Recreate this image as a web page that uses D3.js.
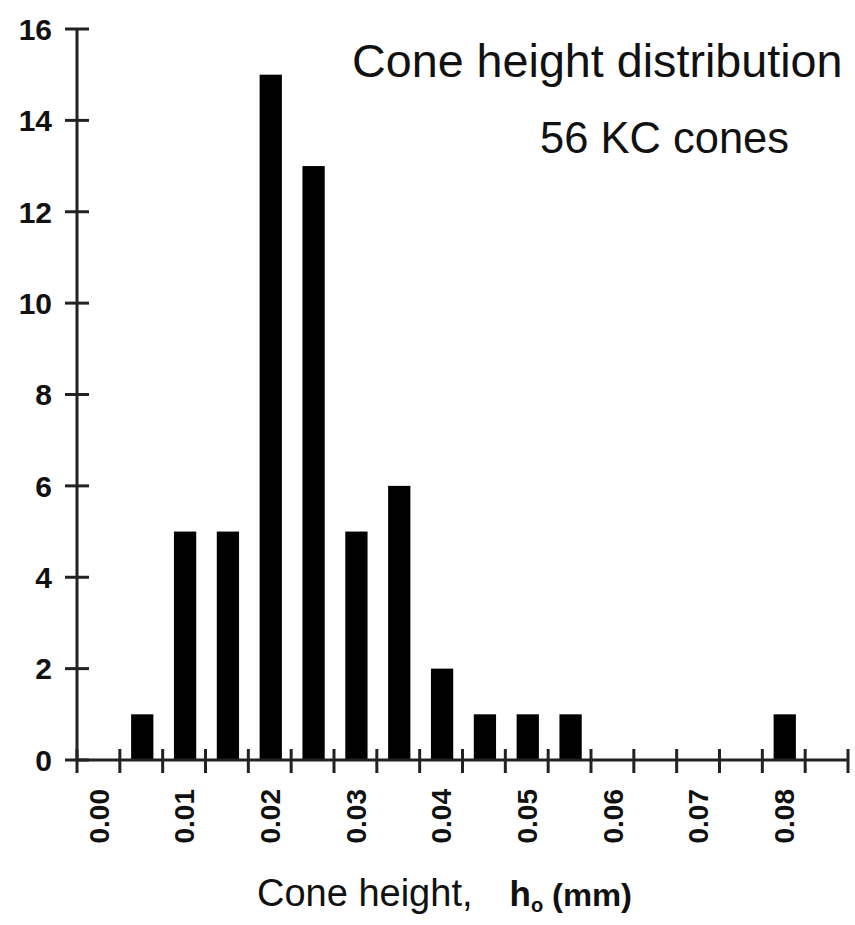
<!DOCTYPE html>
<html>
<head>
<meta charset="utf-8">
<script src="https://cdn.jsdelivr.net/npm/d3@7"></script>
<style>
  html, body { margin: 0; padding: 0; background: #fff; }
  svg { display: block; }
  text { font-family: "Liberation Sans", Arial, Helvetica, sans-serif; fill: #111; }
</style>
</head>
<body>
<svg id="chart" width="855" height="925"></svg>
<script>
// Histogram bins (lower bin edge, mm) and cone counts per bin
const binEdges = ["0.000","0.005","0.010","0.015","0.020","0.025","0.030","0.035","0.040",
                  "0.045","0.050","0.055","0.060","0.065","0.070","0.075","0.080","0.085"];
const coneCounts = [0, 1, 5, 5, 15, 13, 5, 6, 2, 1, 1, 1, 0, 0, 0, 0, 1, 0];
const xTickLabels = ["0.00","0.01","0.02","0.03","0.04","0.05","0.06","0.07","0.08"];
const yTickValues = [0, 2, 4, 6, 8, 10, 12, 14, 16];

const svg = d3.select("#chart");
const plotLeft = 77, plotRight = 848, plotTop = 29, plotBottom = 760;

const x = d3.scaleBand().domain(binEdges).range([plotLeft, plotRight]).padding(0);
const y = d3.scaleLinear().domain([0, 16]).range([plotBottom, plotTop]);
const step = x.step();
const barW = step * 0.52;

// bars
svg.append("g").selectAll("rect")
  .data(binEdges.map((b, i) => ({ bin: b, n: coneCounts[i] })).filter(d => d.n > 0))
  .join("rect")
  .attr("x", d => x(d.bin) + (step - barW) / 2 + 1)
  .attr("width", barW)
  .attr("y", d => y(d.n))
  .attr("height", d => y(0) - y(d.n))
  .attr("fill", "#000");

const axisColor = "#222";

// y axis line and cross ticks
svg.append("line")
  .attr("x1", plotLeft).attr("x2", plotLeft).attr("y1", y(16)).attr("y2", y(0))
  .attr("stroke", axisColor).attr("stroke-width", 3);
const yg = svg.append("g");
yg.selectAll("line").data(yTickValues).join("line")
  .attr("x1", plotLeft - 12).attr("x2", plotLeft + 12)
  .attr("y1", d => y(d)).attr("y2", d => y(d))
  .attr("stroke", axisColor).attr("stroke-width", 3);
yg.selectAll("text").data(yTickValues).join("text")
  .attr("x", 52).attr("y", d => y(d)).attr("dy", "0.36em")
  .attr("text-anchor", "end")
  .attr("font-size", 30).attr("font-weight", "bold")
  .text(d => d);

// x axis line and bin-boundary ticks
svg.append("line")
  .attr("x1", plotLeft).attr("x2", plotRight).attr("y1", y(0)).attr("y2", y(0))
  .attr("stroke", axisColor).attr("stroke-width", 3);
const boundaries = binEdges.map(b => x(b)).concat([plotRight]);
svg.append("g").selectAll("line").data(boundaries).join("line")
  .attr("x1", d => d).attr("x2", d => d)
  .attr("y1", y(0) - 11).attr("y2", y(0) + 13)
  .attr("stroke", axisColor).attr("stroke-width", 3);

// x tick labels on every other bin, rotated
const labelY = 789;
svg.append("g").selectAll("text").data(xTickLabels).join("text")
  .attr("transform", (d, i) => {
    const cx = x(binEdges[i * 2]) + step / 2;
    return `translate(${cx},${labelY}) rotate(-90)`;
  })
  .attr("dy", "0.36em")
  .attr("text-anchor", "end")
  .attr("font-size", 28).attr("font-weight", "bold")
  .text(d => d);

// annotation
svg.append("text").attr("x", 352).attr("y", 77)
  .attr("font-size", 46.7).attr("fill", "#222")
  .text("Cone height distribution");
svg.append("text").attr("x", 540).attr("y", 153)
  .attr("font-size", 43.5).attr("fill", "#222")
  .text("56 KC cones");

// x axis title
const xt = svg.append("text").attr("x", 257).attr("y", 906).attr("fill", "#222");
xt.append("tspan").attr("font-size", 38).text("Cone height,");
xt.append("tspan").attr("dx", 37).attr("font-size", 35).attr("font-weight", "bold").text("h");
xt.append("tspan").attr("dy", 6).attr("font-size", 20).attr("font-weight", "bold").text("o");
svg.append("text").attr("x", 552).attr("y", 906)
  .attr("font-size", 31).attr("font-weight", "bold").attr("fill", "#222")
  .attr("textLength", 80).attr("lengthAdjust", "spacingAndGlyphs")
  .text("(mm)");
</script>
</body>
</html>
